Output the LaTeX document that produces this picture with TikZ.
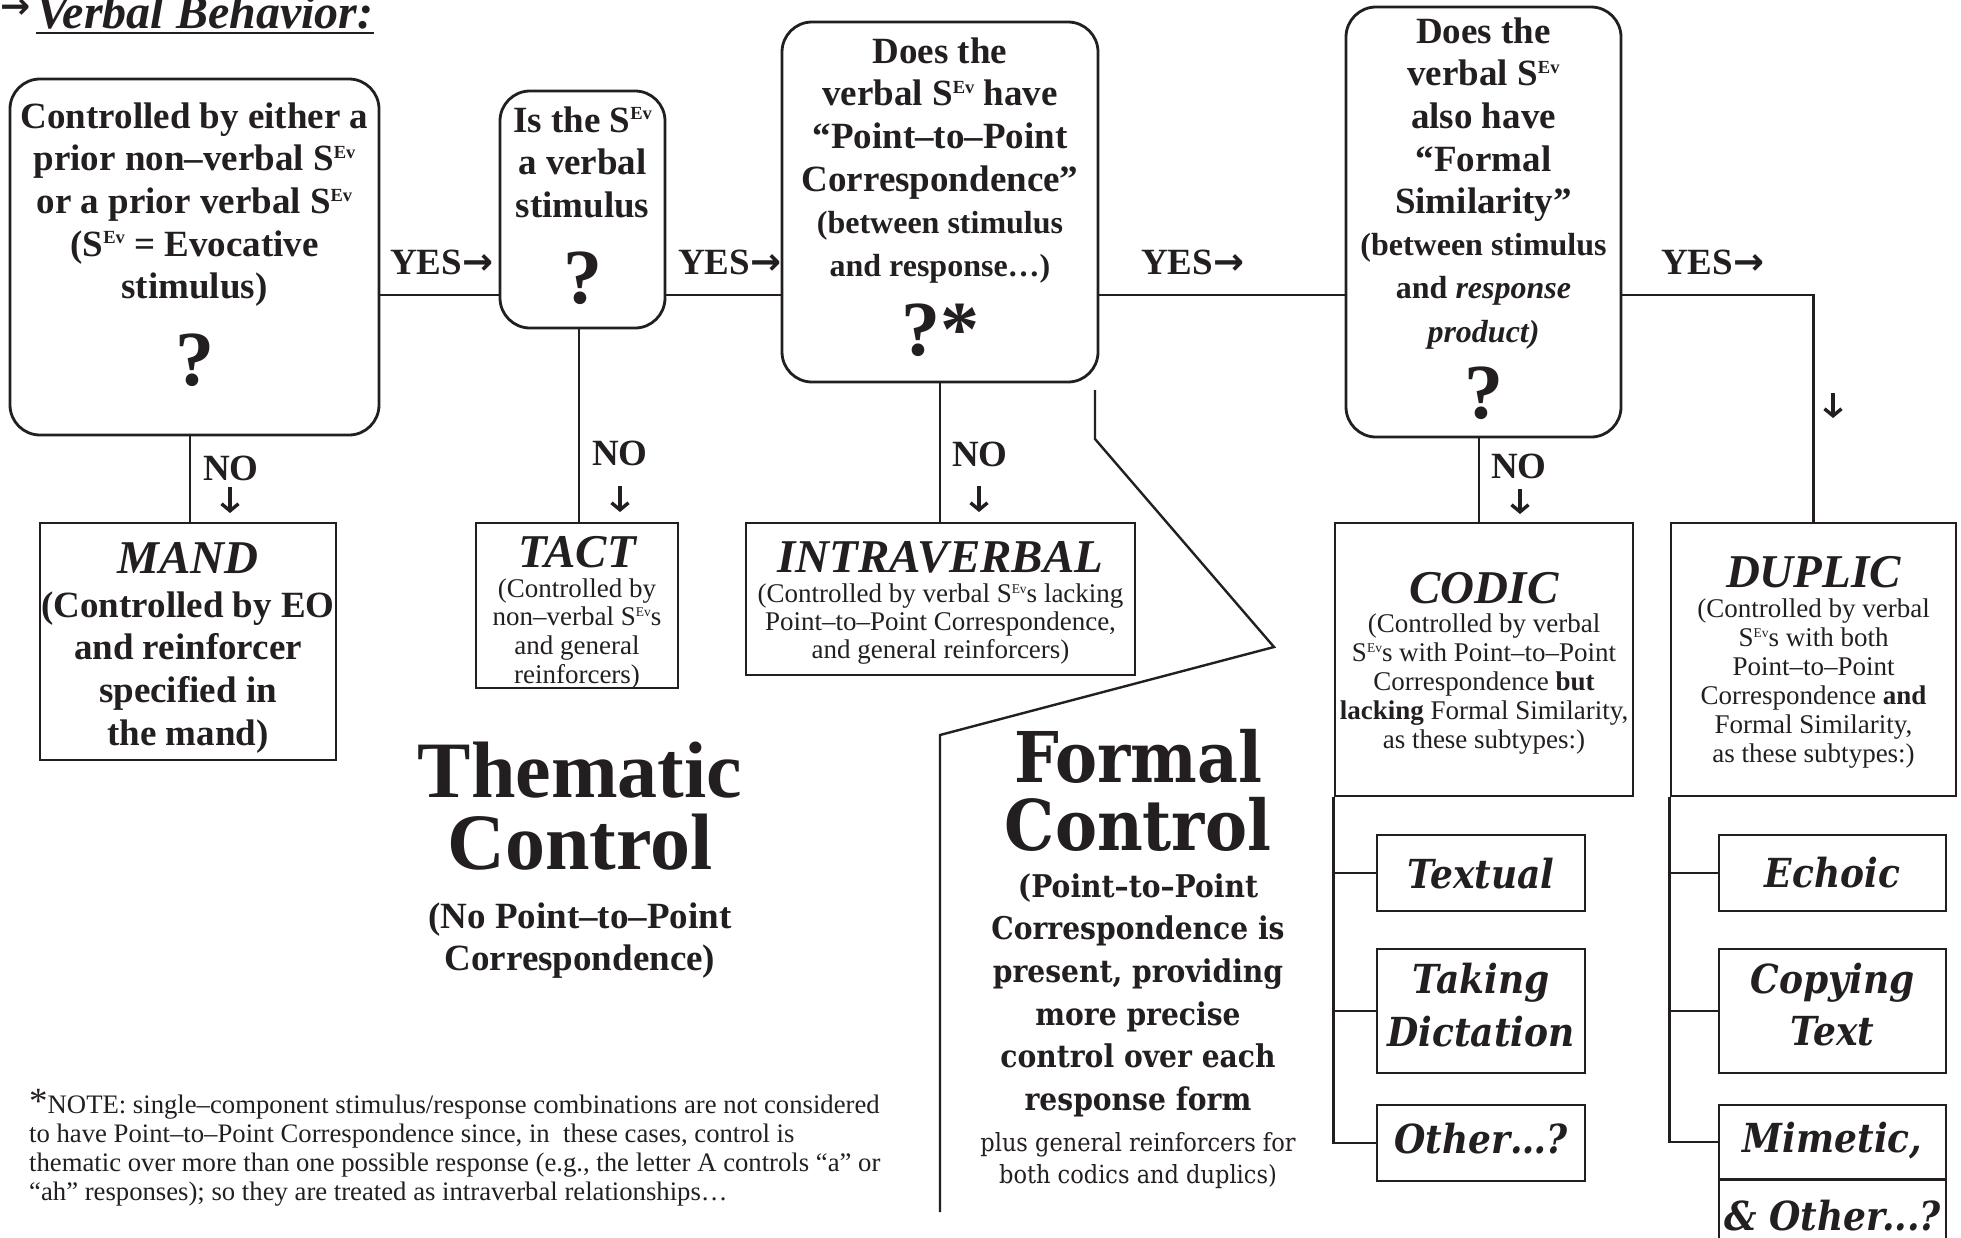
\documentclass[tikz,border=0pt]{standalone}
\usepackage{fontspec}
\usepackage{graphicx}
\usetikzlibrary{arrows.meta}
\setmainfont{Liberation Serif}
\newfontfamily\centfont[FakeStretch=0.9]{DejaVu Serif}
\newfontfamily\dvsans{DejaVu Sans}
\definecolor{ink}{RGB}{35,31,32}
\newcommand\fs[2]{\fontsize{#1}{#2}\selectfont}
\newcommand\Ev{\raisebox{0.33em}{\scalebox{0.5}{Ev}}}
\newcommand\Sev{S\Ev}
\newcommand\tlines[2]{\parbox[t]{#1pt}{\centering #2}}
\newcommand\llines[2]{\parbox[t]{#1pt}{\raggedright #2}}
\tikzset{
  qbox/.style={draw=ink, line width=2.8pt, rounded corners=30pt, inner sep=0pt},
  sbox/.style={draw=ink, line width=2.8pt, inner sep=0pt},
  wire/.style={draw=ink, line width=2.6pt},
  lbl/.style={inner sep=0pt, anchor=base, text=ink},
  bq/.style={font=\fs{37}{42.7}\bfseries},
  bsmall/.style={font=\fs{32}{43.8}\bfseries},
  big/.style={font=\fs{78}{80}\bfseries},
  bi/.style={font=\fs{47}{50}\bfseries\itshape},
  rg/.style={font=\fs{27}{28.8}},
  sub/.style={font=\centfont\fs{40}{53}\bfseries\itshape},
  yes/.style={lbl, anchor=base west, font=\fs{37}{40}\bfseries},
  no/.style={lbl, anchor=base west, font=\fs{37}{40}\bfseries},
  darrow/.style={draw=ink, line width=3.4pt, -{Straight Barb[length=7pt, width=17pt]}},
}
\begin{document}
\begin{tikzpicture}[x=1pt,y=-1pt]
\useasboundingbox (0,0) rectangle (1961,1237);
\fill[white] (0,0) rectangle (1961,1237);
\clip (0,0) rectangle (1961,1237);

% title
\node[lbl, anchor=center, font=\dvsans\fs{36}{38}\bfseries] (tarr) at (16,9) {→};
\node[lbl, anchor=base west, font=\fs{48}{50}\bfseries\itshape] (title) at (36,28) {Verbal Behavior:};
\coordinate (ul) at (0,33);
\draw[draw=ink, line width=2.2pt] (title.west |- ul) -- (title.east |- ul);

% question boxes
\node[qbox, minimum width=369pt, minimum height=356pt] (b1) at (194.5,257) {};
\node[qbox, minimum width=165pt, minimum height=237pt] (b2) at (582.5,209.5) {};
\node[qbox, minimum width=316pt, minimum height=360pt] (b3) at (940,202) {};
\node[qbox, minimum width=275pt, minimum height=430pt] (b4) at (1483.5,222) {};

\node[lbl, bq] (t1) at (194.5,128) {\tlines{420}{Controlled by either a\\prior non–verbal \Sev\\or a prior verbal \Sev\\(\Sev\ = Evocative\\stimulus)}};
\node[lbl, big] (q1) at (194.5,385) {?};

\node[lbl, bq] (t2) at (582.5,132) {\tlines{300}{Is the \Sev\\a verbal\\stimulus}};
\node[lbl, big] (q2) at (582.5,303) {?};

\node[lbl, bq] (t3) at (940,63) {\tlines{400}{Does the\\verbal \Sev\ have\\“Point–to–Point\\Correspondence”}};
\node[lbl, bsmall] (t3b) at (940,233) {\tlines{400}{(between stimulus\\and response…)}};
\node[lbl, big] (q3) at (940,355) {?*};

\node[lbl, bq] (t4) at (1483.5,43) {\tlines{400}{Does the\\verbal \Sev\\also have\\“Formal\\Similarity”}};
\node[lbl, bsmall] (t4b) at (1483.5,255) {\tlines{400}{(between stimulus\\and \textit{response}\\\textit{product)}}};
\node[lbl, big] (q4) at (1483.5,418) {?};

% result boxes
\node[sbox, minimum width=296pt, minimum height=237pt] (mand) at (188,641.5) {};
\node[sbox, minimum width=202pt, minimum height=165pt] (tact) at (577,605.5) {};
\node[sbox, minimum width=389pt, minimum height=152pt] (intra) at (940.5,599) {};
\node[sbox, minimum width=298pt, minimum height=273pt] (codic) at (1484,659.5) {};
\node[sbox, minimum width=285pt, minimum height=273pt] (duplic) at (1813.5,659.5) {};

\node[lbl, bi] (mandh) at (188,573) {MAND};
\node[lbl, bq] (mandt) at (188,617) {\tlines{400}{(Controlled by EO\\and reinforcer\\specified in\\the mand)}};

\node[lbl, bi] (tacth) at (577,567) {TACT};
\node[lbl, rg] (tactt) at (577,597) {\tlines{300}{(Controlled by\\non–verbal \Sev s\\and general\\reinforcers)}};

\node[lbl, bi] (intrah) at (940.5,572) {INTRAVERBAL};
\node[lbl, rg, font=\fs{27}{28}] (intrat) at (940.5,602) {\tlines{500}{(Controlled by verbal \Sev s lacking\\Point–to–Point Correspondence,\\and general reinforcers)}};

\node[lbl, bi] (codich) at (1484,603) {CODIC};
\node[lbl, rg, font=\fs{27}{29}] (codict) at (1484,632) {\tlines{400}{(Controlled by verbal\\\Sev s with Point–to–Point\\Correspondence \textbf{but}\\\textbf{lacking} Formal Similarity,\\as these subtypes:)}};

\node[lbl, bi] (duplich) at (1813.5,587) {DUPLIC};
\node[lbl, rg, font=\fs{27}{29}] (duplict) at (1813.5,617) {\tlines{400}{(Controlled by verbal\\\Sev s with both\\Point–to–Point\\Correspondence \textbf{and}\\Formal Similarity,\\as these subtypes:)}};

% connectors
\coordinate (yl) at (0,295);
\draw[wire] (b1.east |- yl) -- (b2.west |- yl);
\draw[wire] (b2.east |- yl) -- (b3.west |- yl);
\draw[wire] (b3.east |- yl) -- (b4.west |- yl);
\draw[wire] (b4.east |- yl) -| (duplic.north);
\draw[wire] ([xshift=2pt]b1.south -| mand.north) -- ([xshift=2pt]mand.north);
\draw[wire] ([xshift=2pt]b2.south -| tact.north) -- ([xshift=2pt]tact.north);
\draw[wire] (b3.south) -- (b3.south |- intra.north);
\draw[wire] ([xshift=-5pt]codic.north |- b4.south) -- ([xshift=-5pt]codic.north);

\node[yes] (y1) at (390,274) {YES{\dvsans\bfseries →}};
\node[yes] (y2) at (678,274) {YES{\dvsans\bfseries →}};
\node[yes] (y3) at (1141,274) {YES{\dvsans\bfseries →}};
\node[yes] (y4) at (1661,274) {YES{\dvsans\bfseries →}};

\node[no] (n1) at (203,480) {NO};
\node[no] (n2) at (592,465) {NO};
\node[no] (n3) at (952,466) {NO};
\node[no] (n4) at (1491,478) {NO};

% small down arrows
\coordinate (a1s) at (230,487); \coordinate (a1e) at (230,513);
\coordinate (a2s) at (620,486); \coordinate (a2e) at (620,512);
\coordinate (a3s) at (979,486); \coordinate (a3e) at (979,512);
\coordinate (a4s) at (1520,489); \coordinate (a4e) at (1520,514);
\coordinate (a5s) at (1833,393); \coordinate (a5e) at (1833,418);
\draw[darrow] (a1s) -- (a1e);
\draw[darrow] (a2s) -- (a2e);
\draw[darrow] (a3s) -- (a3e);
\draw[darrow] (a4s) -- (a4e);
\draw[darrow] (a5s) -- (a5e);

% subtype boxes
\node[sbox, minimum width=208pt, minimum height=76pt] (textual) at (1481,873) {};
\node[sbox, minimum width=208pt, minimum height=124pt] (taking) at (1481,1011) {};
\node[sbox, minimum width=208pt, minimum height=76pt] (other) at (1481,1143) {};
\node[sbox, minimum width=227pt, minimum height=76pt] (echoic) at (1832.5,873) {};
\node[sbox, minimum width=227pt, minimum height=124pt] (copying) at (1832.5,1011) {};
\node[sbox, minimum width=227pt, minimum height=74pt] (mimetic) at (1832.5,1142) {};
\node[sbox, minimum width=227pt, minimum height=100pt] (andother) at (1832.5,1230) {};

\draw[wire] (codic.south west) |- (other.west);
\draw[wire] (codic.south west |- textual.west) -- (textual.west);
\draw[wire] (codic.south west |- taking.west) -- (taking.west);
\draw[wire] (duplic.south west) |- (mimetic.west);
\draw[wire] (duplic.south west |- echoic.west) -- (echoic.west);
\draw[wire] (duplic.south west |- copying.west) -- (copying.west);

\node[lbl, sub] (textualt) at (1481,888) {Textual};
\node[lbl, sub] (takingt) at (1481,993) {\tlines{300}{Taking\\Dictation}};
\node[lbl, sub] (othert) at (1481,1153) {Other…?};
\node[lbl, sub] (echoict) at (1832.5,887) {Echoic};
\node[lbl, sub, font=\centfont\fs{40}{52}\bfseries\itshape] (copyingt) at (1832.5,993) {\tlines{300}{Copying\\Text}};
\node[lbl, sub] (mimetict) at (1832.5,1152) {Mimetic,};
\node[lbl, sub] (andothert) at (1832.5,1230) {\& Other...?};

% formal control bracket
\coordinate (f1) at (1095,390);
\coordinate (f2) at (1095,439);
\coordinate (f3) at (1274,647);
\coordinate (f4) at (940,735);
\coordinate (f5) at (940,1212);
\draw[wire, line width=2.4pt] (f1) -- (f2) -- (f3) -- (f4) -- (f5);

% big labels
\node[lbl, font=\fs{80}{72}\bfseries] (them) at (580,797) {\tlines{500}{Thematic\\Control}};
\node[lbl, bq, font=\fs{37}{42}\bfseries] (themt) at (580,928) {\tlines{500}{(No Point–to–Point\\Correspondence)}};

\node[lbl, font=\centfont\fs{70}{68}\bfseries] (form) at (1138,782) {\tlines{500}{Formal\\Control}};
\node[lbl, font=\centfont\fs{31.3}{42.7}\bfseries] (formt) at (1138,897) {\tlines{500}{(Point–to–Point\\Correspondence is\\present, providing\\more precise\\control over each\\response form}};
\node[lbl, font=\centfont\fs{25}{32}] (formt2) at (1138,1151) {\tlines{500}{plus general reinforcers for\\both codics and duplics)}};

% note
\node[lbl, anchor=base west, font=\fs{26.7}{29}] (note) at (29,1113) {\llines{1100}{{\fs{37}{29}*}NOTE: single–component stimulus/response combinations are not considered\\to have Point–to–Point Correspondence since, in\ \ these cases, control is\\thematic over more than one possible response (e.g., the letter A controls “a” or\\“ah” responses); so they are treated as intraverbal relationships…}};
\end{tikzpicture}
\end{document}
